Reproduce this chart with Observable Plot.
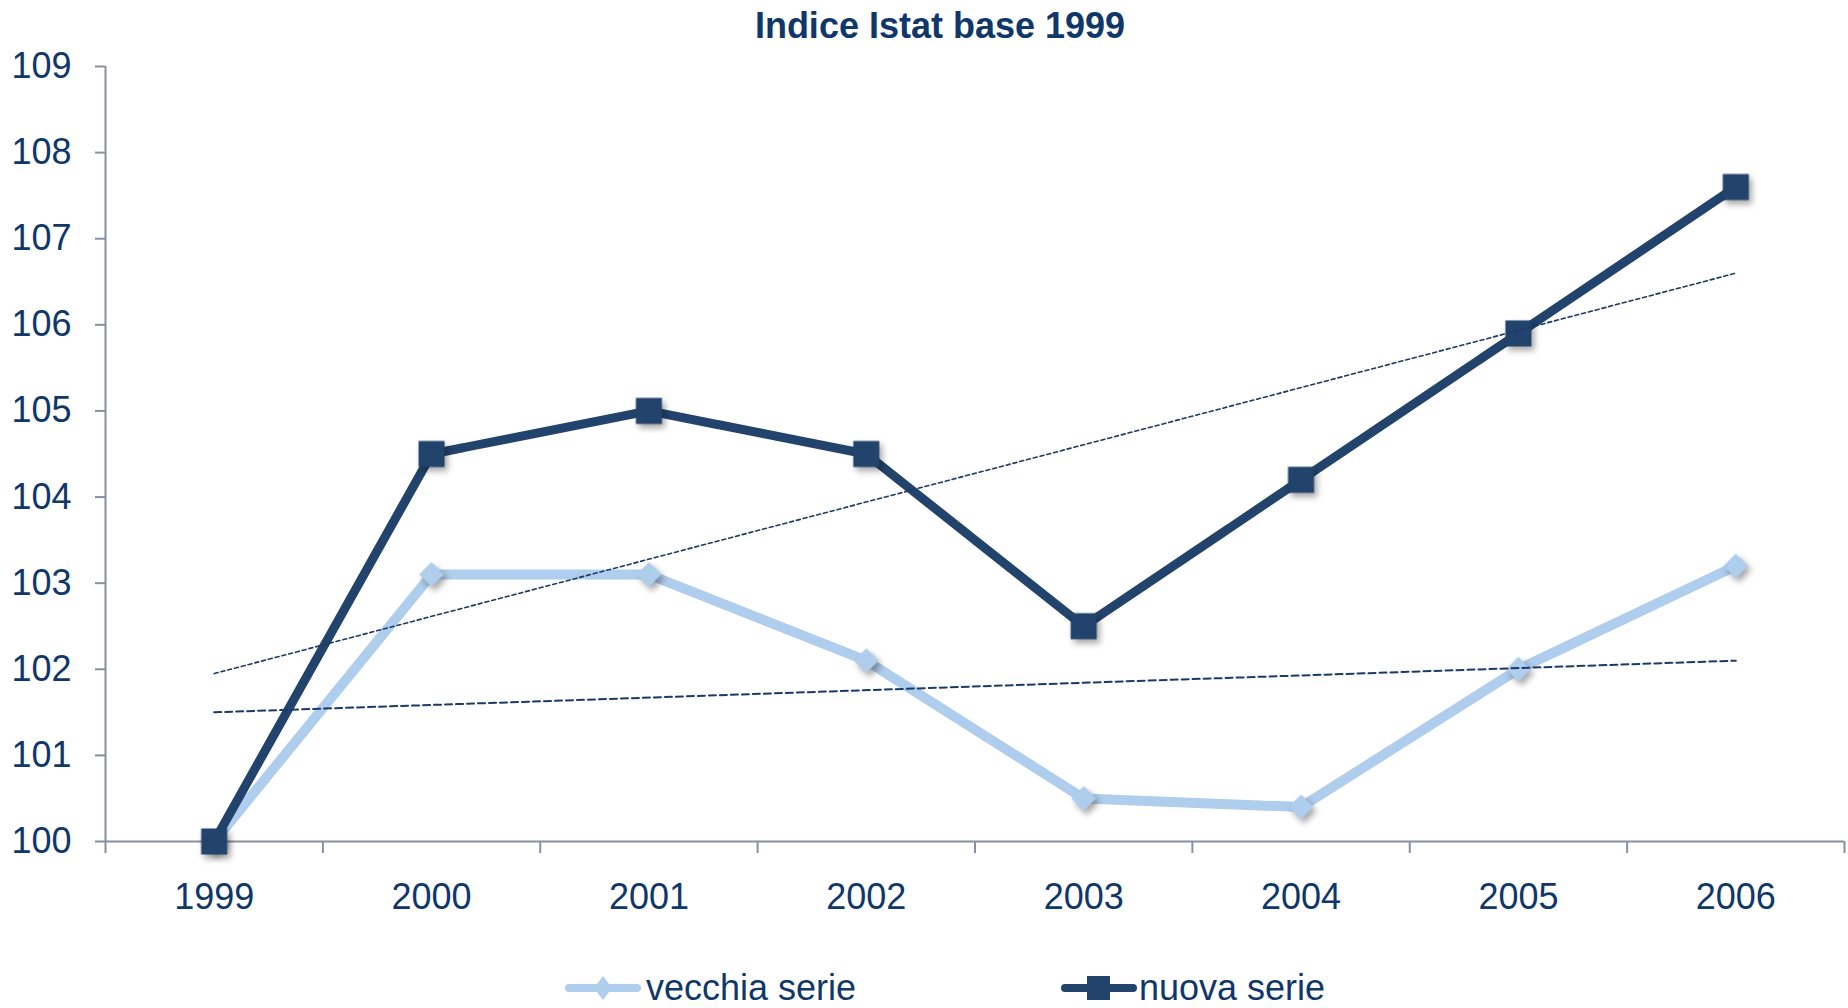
<!DOCTYPE html>
<html>
<head>
<meta charset="utf-8">
<script src="https://cdn.jsdelivr.net/npm/d3@7"></script>
<script src="https://cdn.jsdelivr.net/npm/@observablehq/plot@0.6"></script>
<style>
  html, body { margin: 0; padding: 0; background: #fff; }
  #wrap { position: relative; width: 1848px; height: 1008px; overflow: hidden; font-family: "Liberation Sans", Arial, sans-serif; }
  #title { position: absolute; left: 0; width: 1880px; top: 8px; text-align: center; font-size: 36px; line-height: 36px; font-weight: bold; color: #10376A; }
  #chart { position: absolute; left: 0; top: 0; }
  .legend-item { position: absolute; top: 970px; height: 36px; font-size: 36px; line-height: 36px; color: #10376A; white-space: nowrap; }
  .swatch { position: absolute; }
  svg g[aria-label="dot"] { filter: drop-shadow(3px 4px 3px rgba(0,0,0,0.35)); }
</style>
</head>
<body>
<div id="wrap">
  <div id="chart"></div>
  <div id="title">Indice Istat base 1999</div>
  <div id="legend"></div>
</div>
<script>
const years = [1999, 2000, 2001, 2002, 2003, 2004, 2005, 2006];
const vecchiaSerie = [100, 103.1, 103.1, 102.1, 100.5, 100.4, 102.0, 103.2];
const nuovaSerie = [100, 104.5, 105.0, 104.5, 102.5, 104.2, 105.9, 107.6];
const yTicks = [100, 101, 102, 103, 104, 105, 106, 107, 108, 109];
const seriesNames = ["vecchia serie", "nuova serie"];

const lightBlue = "#AFCDEC";
const darkBlue = "#22436B";
const trendColor = "#1B3A66";
const axisColor = "#878FA0";
const textColor = "#10376A";

const vecchia = years.map((y, i) => ({year: y, value: vecchiaSerie[i]}));
const nuova = years.map((y, i) => ({year: y, value: nuovaSerie[i]}));
const bounds = [years[0] - 0.5, ...years.map(y => y + 0.5)];

const chart = Plot.plot({
  width: 1848,
  height: 1008,
  marginLeft: 105,
  marginRight: 4,
  marginTop: 66,
  marginBottom: 167,
  style: {fontFamily: "'Liberation Sans', Arial, sans-serif", background: "transparent", overflow: "visible"},
  x: {domain: [years[0] - 0.5, years[years.length - 1] + 0.5]},
  y: {domain: [100, 109]},
  marks: [
    Plot.axisY({ticks: yTicks, tickSize: 10, tickPadding: 24, fontSize: 36, fill: textColor, stroke: axisColor, strokeWidth: 2, tickFormat: d => String(d), label: null, strokeOpacity: 1}),
    Plot.axisX({ticks: bounds, tickSize: 12, tickFormat: () => "", stroke: axisColor, strokeWidth: 2, label: null}),
    Plot.axisX({ticks: years, tickSize: 0, tickPadding: 42, fontSize: 36, fill: textColor, tickFormat: d => String(d), label: null}),
    Plot.ruleY([100], {stroke: axisColor, strokeWidth: 2}),
    Plot.ruleX([bounds[0]], {y1: 100, y2: 109, stroke: axisColor, strokeWidth: 2}),
    Plot.line(vecchia, {x: "year", y: "value", stroke: lightBlue, strokeWidth: 10}),
    Plot.dot(vecchia, {x: "year", y: "value", symbol: "diamond2", r: 11.2, fill: lightBlue}),
    Plot.line(nuova, {x: "year", y: "value", stroke: darkBlue, strokeWidth: 9}),
    Plot.dot(nuova, {x: "year", y: "value", symbol: "square", r: 14.7, fill: darkBlue}),
    Plot.linearRegressionY(vecchia, {x: "year", y: "value", stroke: trendColor, strokeWidth: 2, strokeDasharray: "7,4", ci: 0}),
    Plot.linearRegressionY(nuova, {x: "year", y: "value", stroke: trendColor, strokeWidth: 1.6, strokeDasharray: "4,3", ci: 0})
  ]
});
document.getElementById("chart").appendChild(chart);

// legend
const items = [
  {name: seriesNames[0], color: lightBlue, symbol: "diamond", x0: 565, tx: 646},
  {name: seriesNames[1], color: darkBlue, symbol: "square", x0: 1061, tx: 1139}
];
items.forEach(it => {
  const ns = "http://www.w3.org/2000/svg";
  const svg = document.createElementNS(ns, "svg");
  svg.setAttribute("width", 76);
  svg.setAttribute("height", 30);
  svg.setAttribute("class", "swatch");
  svg.style.left = it.x0 + "px";
  svg.style.top = (988 - 15) + "px";
  const line = document.createElementNS(ns, "line");
  line.setAttribute("x1", 4); line.setAttribute("x2", 72);
  line.setAttribute("y1", 15); line.setAttribute("y2", 15);
  line.setAttribute("stroke", it.color); line.setAttribute("stroke-width", 8);
  line.setAttribute("stroke-linecap", "round");
  svg.appendChild(line);
  const p = document.createElementNS(ns, "path");
  if (it.symbol === "diamond") p.setAttribute("d", "M38,3 L47,15 L38,27 L29,15 Z");
  else p.setAttribute("d", "M26,3 H49 V27 H26 Z");
  p.setAttribute("fill", it.color);
  svg.appendChild(p);
  document.getElementById("wrap").appendChild(svg);
  const t = document.createElement("div");
  t.className = "legend-item";
  t.style.left = it.tx + "px";
  t.textContent = it.name;
  document.getElementById("wrap").appendChild(t);
});
</script>
</body>
</html>
